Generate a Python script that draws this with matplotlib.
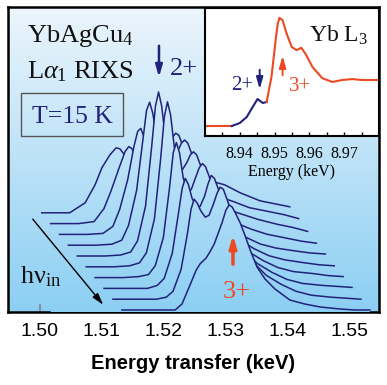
import numpy as np
import matplotlib
matplotlib.use('Agg')
import matplotlib.pyplot as plt
from matplotlib.patches import Polygon, Rectangle
from matplotlib.colors import LinearSegmentedColormap

plt.rcParams['font.family'] = 'Liberation Sans'
plt.rcParams['mathtext.fontset'] = 'custom'
plt.rcParams['mathtext.rm'] = 'Liberation Serif'
plt.rcParams['mathtext.it'] = 'Liberation Serif:italic'
plt.rcParams['mathtext.bf'] = 'Liberation Serif:bold'

# RIXS spectra, energy transfer of the front spectrum (keV)
energy = [1.5132, 1.5177, 1.5202, 1.5218, 1.5229, 1.5242, 1.5252, 1.5258, 1.5263, 1.5268,
          1.5274, 1.5281, 1.5287, 1.5294, 1.5300, 1.5305, 1.5310, 1.5316, 1.5323, 1.5331,
          1.5339, 1.5350, 1.5363, 1.5379, 1.5403, 1.5427, 1.5452, 1.5484, 1.5508, 1.5532]

# intensities, back (lowest h nu_in) to front
spec0 = [0, 0, 10, 28, 45, 58, 65, 64, 60, 55, 50, 48, 50, 55, 58, 58, 57, 55, 52, 48, 45, 42, 39, 36, 32, 28, 20, 12, 9, 6]
spec1 = [0, 0, 2, 15, 32, 55, 72, 77, 75, 68, 60, 55, 56, 60, 63, 64, 62, 58, 54, 49, 45, 40, 36, 32, 27, 22, 16, 12, 9, 5]
spec2 = [0, 0, 1, 8, 25, 55, 88, 103, 106, 98, 82, 70, 68, 72, 76, 77, 75, 70, 64, 56, 50, 43, 37, 31, 25, 20, 15, 10, 7, 3]
spec3 = [0, 0, 1, 5, 20, 55, 105, 135, 143, 132, 108, 92, 90, 98, 108, 112, 110, 100, 88, 74, 62, 50, 40, 31, 22, 16, 11, 7, 4, 2]
spec4 = [0, 0, 1, 4, 15, 50, 110, 150, 164, 150, 118, 100, 98, 105, 113, 116, 113, 103, 90, 75, 62, 49, 38, 28, 19, 12, 8, 5, 3, 2]
spec5 = [0, 0, 1, 4, 14, 48, 108, 150, 165, 152, 120, 100, 97, 104, 112, 115, 112, 102, 89, 74, 61, 48, 37, 27, 18, 11, 7, 4, 2, 1]
spec6 = [0, 0, 1, 3, 12, 40, 90, 125, 135, 125, 100, 86, 88, 100, 110, 114, 111, 101, 88, 73, 60, 47, 36, 26, 17, 10, 6, 4, 2, 1]
spec7 = [0, 0, 0, 3, 10, 35, 75, 100, 110, 104, 90, 82, 82, 92, 105, 113, 110, 100, 87, 72, 59, 46, 35, 25, 16, 9, 5, 3, 2, 1]
spec8 = [0, 0, 0, 2, 8, 30, 65, 90, 100, 96, 88, 82, 84, 95, 106, 112, 110, 100, 87, 72, 59, 45, 34, 24, 15, 8, 4, 2, 1, 0]
spec9 = [0, 0, 0, 0, 6, 25, 40, 46, 49, 52, 58, 66, 76, 88, 100, 105, 103, 96, 87, 74, 60, 43, 31, 21, 10, 6, 3, 1, 0, 0]
spectra = [spec0, spec1, spec2, spec3, spec4, spec5, spec6, spec7, spec8, spec9]

# Yb L3 absorption (inset)
xanes_E = [8.9300, 8.9377, 8.9400, 8.9420, 8.9437, 8.9451, 8.9466, 8.9477, 8.9491, 8.9503,
           8.9509, 8.9514, 8.9523, 8.9534, 8.9549, 8.9563, 8.9577, 8.9591, 8.9609, 8.9637,
           8.9666, 8.9694, 8.9723, 8.9751, 8.9800]
xanes_mu = [0, 0, 0.065, 0.196, 0.413, 0.587, 0.50, 0.522, 1.065, 1.87,
            2.22, 2.35, 2.30, 2.02, 1.72, 1.65, 1.70, 1.54, 1.28, 1.04,
            0.957, 1.0, 1.02, 1.0, 1.0]

navy = '#22227a'
red = '#ec4a22'
W, H = 387, 385

def fx(x, y):
    return x / W, 1 - y / H

fig = plt.figure(figsize=(W / 100, H / 100), dpi=100)
ax = fig.add_axes([8 / W, 1 - 312 / H, 371 / W, 305 / H])
xlim = (1.49484, 1.55468)
ylim = (0, 305)

bg = LinearSegmentedColormap.from_list('bg', ['#ecf5fc', '#8ccff3'])
grad = np.linspace(0, 1, 256).reshape(-1, 1)

def gradient(z):
    return ax.imshow(grad, cmap=bg, extent=[xlim[0], xlim[1], ylim[0], ylim[1]],
                     aspect='auto', origin='upper', zorder=z, interpolation='bilinear')

gradient(0)

dx = 0.001435
dy = 10.8
E = np.array(energy)
for k, spec in enumerate(spectra):
    s = 9 - k
    x = E - s * dx
    y = np.array(spec) + 2 + s * dy
    verts = [(x[0], -5)] + list(zip(x, y)) + [(x[-1], -5)]
    poly = Polygon(verts, closed=True, transform=ax.transData, fc='none', ec='none')
    im = gradient(1 + 2 * k)
    im.set_clip_path(poly)
    ax.plot(x, y, color=navy, lw=1.1, zorder=2 + 2 * k)

ax.set_xlim(*xlim)
ax.set_ylim(*ylim)
ax.set_yticks([])
ax.set_xticks([1.50, 1.51, 1.52, 1.53, 1.54, 1.55])
ax.set_xticklabels(['1.50', '1.51', '1.52', '1.53', '1.54', '1.55'])
ax.set_xticks([1.505, 1.515, 1.525, 1.535, 1.545], minor=True)
ax.tick_params(axis='x', which='major', direction='in', length=5.8, width=1.1,
               color='#808080', labelsize=14, pad=8)
ax.tick_params(axis='x', which='minor', direction='in', length=3.6, width=1.1, color='#808080')
for sp in ax.spines.values():
    sp.set_linewidth(1.8)
ax.set_xlabel('Energy transfer (keV)', fontsize=14.5, fontweight='bold', labelpad=10)

def px2d(x, y):
    return 1.50 + (x - 40) / 6200, 312 - y

arr = dict(arrowstyle='-|>,head_length=0.7,head_width=0.2', mutation_scale=10)
ax.annotate('', xy=px2d(159, 80), xytext=px2d(159, 43),
            arrowprops=dict(color=navy, lw=1.8, **arr), zorder=40)
ax.annotate('', xy=px2d(233, 232), xytext=px2d(233, 267),
            arrowprops=dict(color=red, lw=2.5, **arr), zorder=40)
ax.annotate('', xy=px2d(105, 307), xytext=px2d(31, 217),
            arrowprops=dict(color='black', lw=1.0, **arr), zorder=40)

serif = 'Liberation Serif'
fig.text(*fx(27, 42), r'YbAgCu$_4$', family=serif, fontsize=19, color='#111111', va='baseline')
fig.text(*fx(27, 78), r'L$\alpha_{\mathit{1}}$ RIXS', family=serif, fontsize=19, color='#111111', va='baseline')
fig.add_artist(Rectangle(fx(21, 136), 102 / W, 43 / H, transform=fig.transFigure,
                         fill=False, ec='#555555', lw=1.0))
fig.text(*fx(72, 123), 'T=15 K', family=serif, fontsize=18.5, color=navy, ha='center', va='baseline')
fig.text(*fx(170, 75), '2+', family=serif, fontsize=19, color=navy, va='baseline')
fig.text(*fx(223, 298), '3+', family=serif, fontsize=19, color=red, va='baseline')
fig.text(*fx(20, 283), r'h$\mathrm{\nu}_{\mathrm{in}}$', family=serif, fontsize=19, color='#111111', va='baseline')

# inset
axin = fig.add_axes([205 / W, 1 - 136 / H, 174 / W, 128 / H], zorder=5)
axin.set_facecolor('white')
xe = np.array(xanes_E)
mu = np.array(xanes_mu)
axin.plot(xe[:2], mu[:2], color=red, lw=1.5)
axin.plot(xe[1:8], mu[1:8], color=navy, lw=1.5)
axin.plot(xe[7:], mu[7:], color=red, lw=1.5)
axin.set_xlim(8.930, 8.980)
axin.set_ylim(-0.217, 2.565)
axin.set_yticks([])
axin.set_xticks([8.94, 8.95, 8.96, 8.97])
axin.set_xticklabels(['8.94', '8.95', '8.96', '8.97'], family=serif)
axin.set_xticks([8.935, 8.945, 8.955, 8.965, 8.975], minor=True)
axin.tick_params(axis='x', which='both', direction='in', length=3, width=1.0, labelsize=11.5, pad=7)
for sp in axin.spines.values():
    sp.set_linewidth(1.5)
axin.set_xlabel('Energy (keV)', family=serif, fontsize=11.5, labelpad=2)
axin.annotate('', xy=(8.94571, 0.739), xytext=(8.94571, 1.283),
              arrowprops=dict(color=navy, lw=1.4, **arr))
axin.annotate('', xy=(8.95229, 1.587), xytext=(8.95229, 1.043),
              arrowprops=dict(color=red, lw=1.4, **arr))
axin.text(8.94057, 0.891, '2+', family=serif, fontsize=15, color=navy, ha='center', va='center')
axin.text(8.95743, 0.848, '3+', family=serif, fontsize=15, color=red, ha='center', va='center')
axin.text(8.9600, 1.826, r'Yb L$_3$', family=serif, fontsize=17, color='#111111', va='baseline')

fig.savefig('out.png', dpi=100)
